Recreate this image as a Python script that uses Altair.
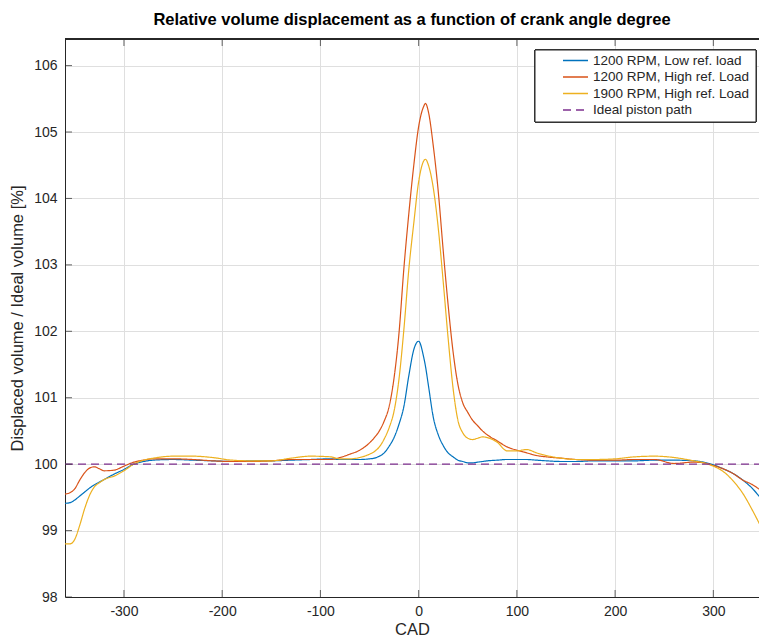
import altair as alt
import pandas as pd

# ---------------- data ----------------
cad = [-360, -355, -350, -345, -340, -335, -330, -325, -320,
       -310, -300, -290, -280, -270,
       -250, -230, -210, -190, -170, -150, -130, -110,
       -90, -80, -70, -60, -50, -45, -40, -35, -30, -25, -20, -15, -10, -5,
       0, 5, 7, 10, 15, 20, 25, 30, 35, 40, 45, 50, 55, 60, 65, 70,
       80, 90, 100, 110, 120, 130, 145, 160, 180, 200, 220, 240, 260, 280, 290, 300, 310, 320, 330, 340, 347]

low_1200 = [99.41, 99.42, 99.46, 99.52, 99.58, 99.64, 99.69, 99.73, 99.77,
            99.85, 99.92, 100.00, 100.04, 100.06,
            100.07, 100.06, 100.05, 100.04, 100.05, 100.05, 100.06, 100.07,
            100.08, 100.07, 100.07, 100.07, 100.08, 100.09, 100.12, 100.17, 100.27, 100.40, 100.60, 100.87, 101.33, 101.72,
            101.85, 101.62, 101.47, 101.18, 100.70, 100.44, 100.28, 100.17, 100.11, 100.06, 100.04, 100.02, 100.02, 100.03, 100.04, 100.05,
            100.06, 100.07, 100.07, 100.07, 100.06, 100.05, 100.04, 100.04, 100.05, 100.05, 100.05, 100.06, 100.06, 100.05, 100.03, 99.99, 99.93, 99.86, 99.76, 99.63, 99.51]

high_1200 = [99.55, 99.57, 99.63, 99.76, 99.87, 99.94, 99.96, 99.93, 99.90,
             99.91, 99.97, 100.03, 100.06, 100.08,
             100.08, 100.07, 100.05, 100.04, 100.04, 100.05, 100.07, 100.07,
             100.07, 100.10, 100.15, 100.21, 100.32, 100.40, 100.50, 100.65, 100.87, 101.30, 101.97, 102.95, 103.77, 104.49,
             105.08, 105.38, 105.43, 105.30, 104.78, 104.10, 103.22, 102.40, 101.70, 101.20, 100.92, 100.78, 100.66, 100.58, 100.50, 100.44,
             100.35, 100.26, 100.21, 100.17, 100.13, 100.11, 100.09, 100.07, 100.06, 100.06, 100.07, 100.07, 100.01, 100.03, 100.02, 99.98, 99.93, 99.86, 99.76, 99.69, 99.62]

high_1900 = [98.80, 98.80, 98.87, 99.08, 99.33, 99.53, 99.66, 99.72, 99.77,
             99.82, 99.90, 100.00, 100.06, 100.09,
             100.12, 100.12, 100.10, 100.06, 100.05, 100.05, 100.09, 100.12,
             100.11, 100.08, 100.08, 100.10, 100.15, 100.19, 100.26, 100.38, 100.55, 100.80, 101.28, 102.03, 102.93, 103.62,
             104.25, 104.56, 104.59, 104.50, 104.15, 103.55, 102.75, 101.90, 101.15, 100.66, 100.47, 100.39, 100.37, 100.39, 100.41, 100.40,
             100.33, 100.20, 100.20, 100.22, 100.17, 100.13, 100.09, 100.07, 100.07, 100.08, 100.11, 100.12, 100.10, 100.05, 100.02, 99.97, 99.89, 99.75, 99.56, 99.30, 99.10]

ideal = [100.0] * len(cad)

series_names = ["1200 RPM, Low ref. load", "1200 RPM, High ref. Load",
                "1900 RPM, High ref. Load", "Ideal piston path"]
series_colors = ["#0072BD", "#D95319", "#EDB120", "#7E2F8E"]
series_dash = [[1, 0], [1, 0], [1, 0], [8, 5]]

x_ticks = [-300, -200, -100, 0, 100, 200, 300]
y_ticks = [98, 99, 100, 101, 102, 103, 104, 105, 106]
x_domain = [-360, 346.5]
y_domain = [98, 106.4]

# ---------------- build table ----------------
rows = []
for name, vals in zip(series_names, [low_1200, high_1200, high_1900, ideal]):
    for i, (c, v) in enumerate(zip(cad, vals)):
        rows.append({"CAD": c, "value": v, "series": name, "order": i})
df = pd.DataFrame(rows)

FONT = "Liberation Sans"
TXT = "#262626"
TICK_FS = 14
TITLE_FS = 16.5

xscale = alt.Scale(domain=x_domain, nice=False, zero=False)
yscale = alt.Scale(domain=y_domain, nice=False, zero=False)

lines = alt.Chart(df).mark_line(strokeWidth=1.2, clip=True, interpolate="monotone").encode(
    x=alt.X("CAD:Q", scale=xscale,
            axis=alt.Axis(values=x_ticks, title="CAD", grid=True, ticks=False,
                          labelExpr="toString(datum.value)",
                          labelFont=FONT, labelFontSize=TICK_FS, labelColor=TXT,
                          titleFont=FONT, titleFontSize=TITLE_FS, titleFontWeight="normal",
                          titleColor=TXT, labelPadding=7, titlePadding=3,
                          domainColor=TXT, gridColor="#dfdfdf")),
    y=alt.Y("value:Q", scale=yscale,
            axis=alt.Axis(values=y_ticks, title="Displaced volume / Ideal volume [%]",
                          grid=True, ticks=False, labelExpr="toString(datum.value)",
                          labelFont=FONT, labelFontSize=TICK_FS, labelColor=TXT,
                          titleFont=FONT, titleFontSize=TITLE_FS, titleFontWeight="normal",
                          titleColor=TXT, labelPadding=8, titlePadding=8,
                          domainColor=TXT, gridColor="#dfdfdf")),
    color=alt.Color("series:N", sort=series_names,
                    scale=alt.Scale(domain=series_names, range=series_colors), legend=None),
    strokeDash=alt.StrokeDash("series:N", sort=series_names,
                              scale=alt.Scale(domain=series_names, range=series_dash), legend=None),
    order="order:Q",
)

xt = pd.DataFrame({"t": x_ticks})
yt = pd.DataFrame({"t": y_ticks})

xticks_bottom = alt.Chart(xt).mark_tick(color=TXT, size=14, thickness=1, clip=True,
                                        orient="vertical").encode(
    x=alt.X("t:Q", scale=xscale), y=alt.YDatum(y_domain[0]))
xticks_top = alt.Chart(xt).mark_tick(color=TXT, size=14, thickness=1, clip=True,
                                     orient="vertical").encode(
    x=alt.X("t:Q", scale=xscale), y=alt.YDatum(y_domain[1]))
yticks_left = alt.Chart(yt).mark_tick(color=TXT, size=14, thickness=1, clip=True,
                                      orient="horizontal").encode(
    y=alt.Y("t:Q", scale=yscale), x=alt.XDatum(x_domain[0]))
top_border = alt.Chart(xt).mark_rule(color=TXT, strokeWidth=1).encode(
    y=alt.YDatum(y_domain[1]))

# ---------------- manual legend (MATLAB style box) ----------------
leg_df = pd.DataFrame({"series": series_names, "idx": list(range(len(series_names)))})
LEG_X0, LEG_X1, LEG_Y0, LEG_Y1 = 470, 691, 11, 83
ROW0, ROWSTEP = 21.5, 16.5

leg_box = alt.Chart(leg_df).mark_rect(fill="white", stroke=TXT, strokeWidth=1).encode(
    x=alt.value(LEG_X0), x2=alt.value(LEG_X1), y=alt.value(LEG_Y0), y2=alt.value(LEG_Y1))

leg_layers = [leg_box]
for i, (name, col, dash) in enumerate(zip(series_names, series_colors, series_dash)):
    sub = leg_df[leg_df["series"] == name]
    leg_layers.append(
        alt.Chart(sub).mark_rule(color=col, strokeWidth=1.3, strokeDash=dash).encode(
            x=alt.value(498), x2=alt.value(523), y=alt.value(ROW0 + ROWSTEP * i)))
leg_text = alt.Chart(leg_df).transform_calculate(
    ly=f"{ROW0} + {ROWSTEP} * datum.idx").mark_text(
    align="left", baseline="middle", font=FONT, fontSize=13.5, color=TXT).encode(
    x=alt.value(528), y=alt.Y("ly:Q", scale=None), text="series:N")
leg_layers.append(leg_text)

chart = alt.layer(lines, xticks_bottom, xticks_top, yticks_left, top_border, *leg_layers).properties(
    width=694, height=558,
    background="white",
    autosize=alt.AutoSizeParams(type="none"),
    padding={"left": 65, "top": 39, "right": 0, "bottom": 42},
    title=alt.Title("Relative volume displacement as a function of crank angle degree",
                    font=FONT, fontSize=16.5, fontWeight="bold", color="#000000",
                    anchor="middle", baseline="alphabetic", offset=12, dy=15),
).configure_view(stroke=None)

chart.save("out.html", embed_options={"renderer": "svg", "actions": False})
